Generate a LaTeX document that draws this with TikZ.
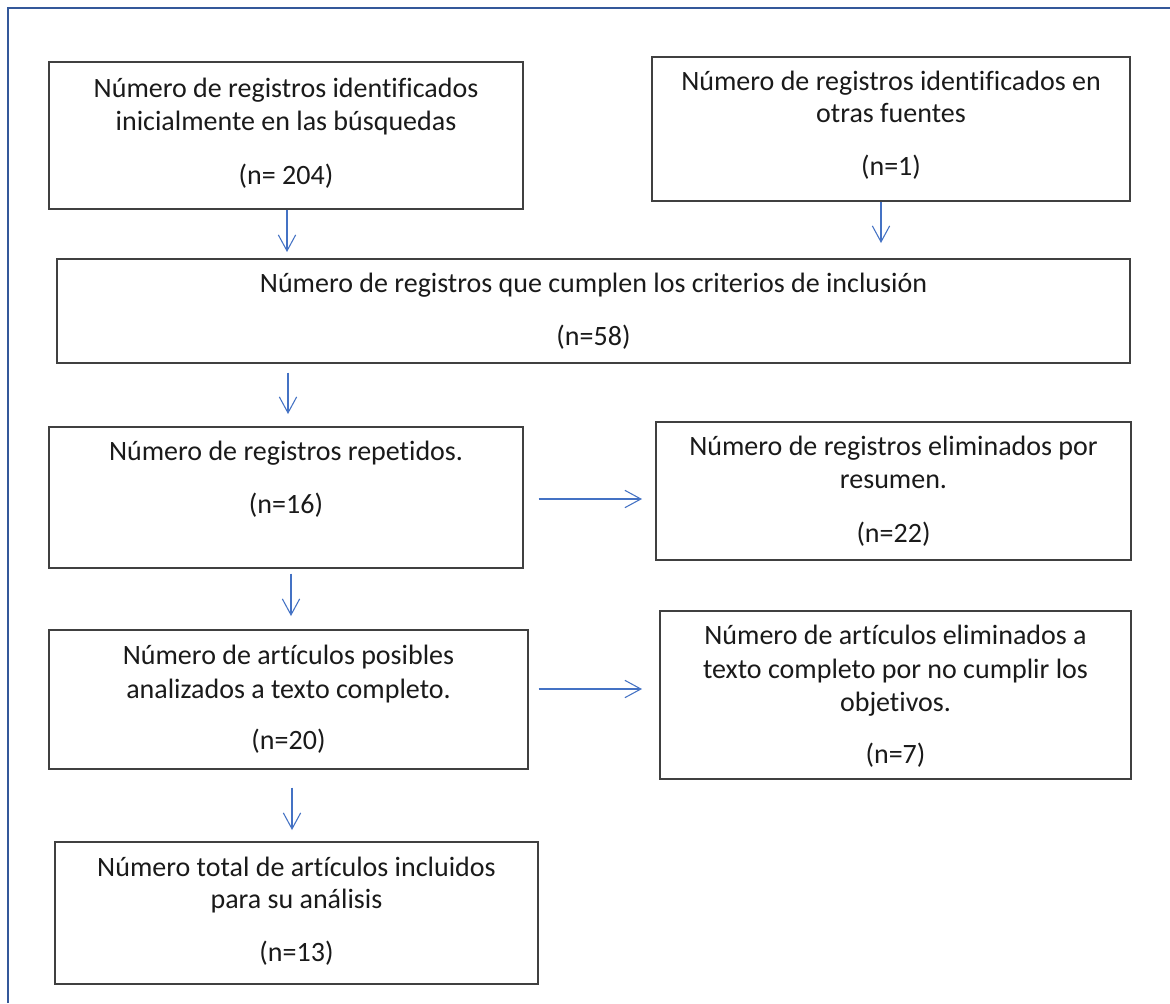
\documentclass[tikz,border=0pt]{standalone}
\usepackage{fontspec}
\setmainfont{Carlito}[Ligatures=NoCommon]
\usetikzlibrary{arrows.meta}
\definecolor{frameblue}{HTML}{34589A}
\definecolor{arrowblue}{HTML}{4472C4}
\definecolor{boxgray}{HTML}{404040}
\definecolor{txtcol}{HTML}{1A1A1A}
\begin{document}
\begin{tikzpicture}[x=0.75pt,y=-0.75pt,
  box/.style={draw=boxgray, line width=1pt, rectangle, inner sep=0pt},
  txt/.style={anchor=base, inner sep=0pt, text=txtcol, font=\fontsize{21}{25}\selectfont},
  arr/.style={draw=arrowblue, line width=0.8pt, -{Straight Barb[length=12pt,width=13pt,line width=0.8pt]}}]
\useasboundingbox (0,0) rectangle (1170,1003);
\fill[white] (0,0) rectangle (1170,1003);
\draw[frameblue, line width=1.5pt] (8,1003) -- (8,8) -- (1170,8);

% boxes
\node[box, minimum width=474*0.75pt, minimum height=147*0.75pt] (b1) at (286,135.5) {};
\node[box, minimum width=478*0.75pt, minimum height=144*0.75pt] (b2) at (891,129) {};
\node[box, minimum width=1073*0.75pt, minimum height=104*0.75pt] (b3) at (593.5,311) {};
\node[box, minimum width=474*0.75pt, minimum height=141*0.75pt] (b4) at (286,497.5) {};
\node[box, minimum width=475*0.75pt, minimum height=138*0.75pt] (b5) at (893.5,491) {};
\node[box, minimum width=479*0.75pt, minimum height=139*0.75pt] (b6) at (288.5,699.5) {};
\node[box, minimum width=471*0.75pt, minimum height=168*0.75pt] (b7) at (895.5,695) {};
\node[box, minimum width=483*0.75pt, minimum height=142*0.75pt] (b8) at (296.5,913) {};

% texts
\node[txt] (t1a) at (286,97) {Número de registros identificados};
\node[txt] (t1b) at (286,130) {inicialmente en las búsquedas};
\node[txt] (t1c) at (286,184) {(n= 204)};

\node[txt] (t2a) at (891,90) {Número de registros identificados en};
\node[txt] (t2b) at (891,122) {otras fuentes};
\node[txt] (t2c) at (891,175) {(n=1)};

\node[txt] (t3a) at (593.5,292) {Número de registros que cumplen los criterios de inclusión};
\node[txt] (t3b) at (593.5,345) {(n=58)};

\node[txt] (t4a) at (286,460) {Número de registros repetidos.};
\node[txt] (t4b) at (286,513) {(n=16)};

\node[txt] (t5a) at (893.5,455) {Número de registros eliminados por};
\node[txt] (t5b) at (893.5,488) {resumen.};
\node[txt] (t5c) at (893.5,542) {(n=22)};

\node[txt] (t6a) at (288.5,664) {Número de artículos posibles};
\node[txt] (t6b) at (288.5,698) {analizados a texto completo.};
\node[txt] (t6c) at (288.5,749) {(n=20)};

\node[txt] (t7a) at (895.5,644) {Número de artículos eliminados a};
\node[txt] (t7b) at (895.5,678) {texto completo por no cumplir los};
\node[txt] (t7c) at (895.5,711) {objetivos.};
\node[txt] (t7d) at (895.5,763) {(n=7)};

\node[txt] (t8a) at (296.5,876) {Número total de artículos incluidos};
\node[txt] (t8b) at (296.5,908) {para su análisis};
\node[txt] (t8c) at (296.5,961) {(n=13)};

% arrow end coordinates
\coordinate (a1) at (287,252);
\coordinate (a2) at (881,243);
\coordinate (a3) at (288,414);
\coordinate (a4) at (291,616);
\coordinate (a5) at (292,830);
\coordinate (h1) at (642,499);
\coordinate (h2) at (642,689);

\draw[arr] (b1.south -| a1) -- (a1);
\draw[arr] (b2.south -| a2) -- (a2);
\draw[arr, shorten <=9*0.75pt] (b3.south -| a3) -- (a3);
\draw[arr, shorten <=5*0.75pt] (b4.south -| a4) -- (a4);
\draw[arr, shorten <=18*0.75pt] (b6.south -| a5) -- (a5);
\draw[arr, shorten <=15*0.75pt] (b4.east |- h1) -- (h1);
\draw[arr, shorten <=10*0.75pt] (b6.east |- h2) -- (h2);
\end{tikzpicture}
\end{document}
